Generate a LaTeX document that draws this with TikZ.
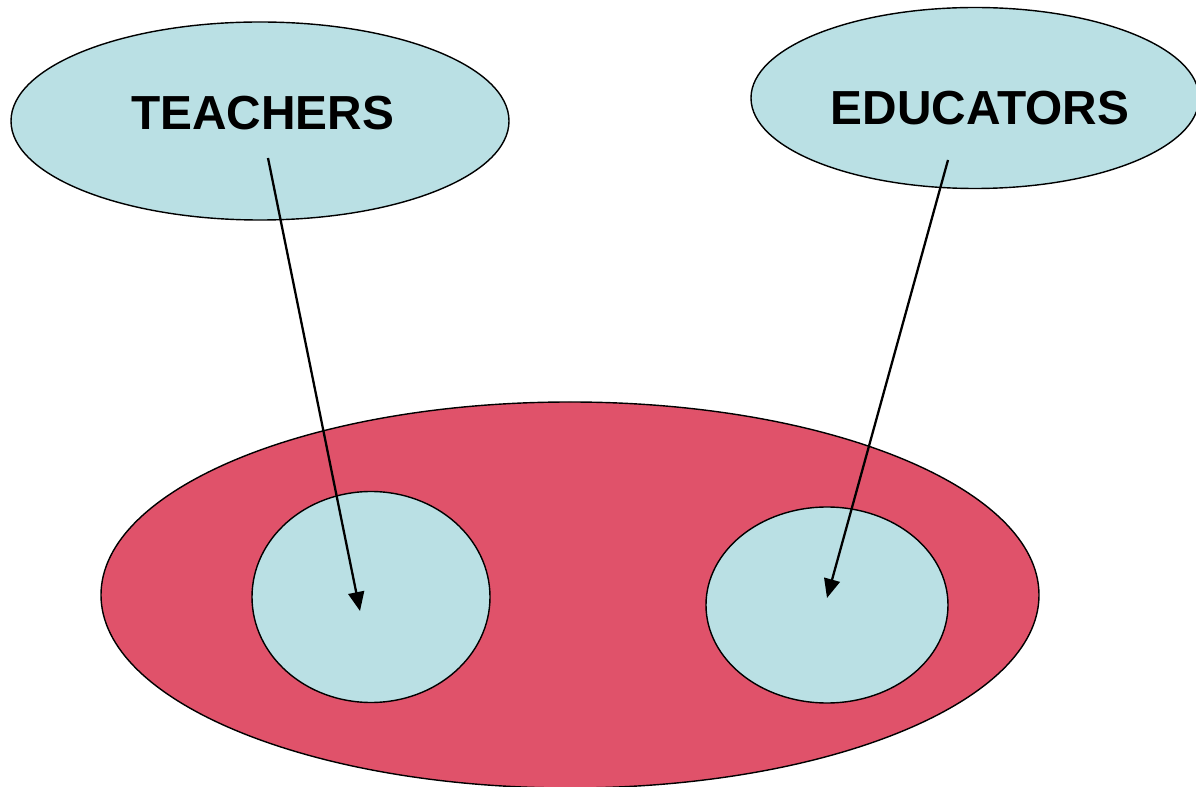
\documentclass[tikz,border=0pt]{standalone}
\usepackage{fontspec}
\setmainfont{Liberation Sans}
\usetikzlibrary{shapes.geometric,arrows.meta}
\definecolor{bubbleBg}{RGB}{186,224,228}
\definecolor{groupBg}{RGB}{224,82,106}
\tikzset{
  bubble/.style={ellipse, draw=black, line width=0.8pt, fill=bubbleBg, inner sep=0pt},
  bubbletext/.style={font=\fontsize{27.2}{32}\selectfont\bfseries, inner sep=0pt},
  pointer/.style={line width=1.3pt, -{Triangle[length=0.38cm, width=0.32cm]}}
}
\begin{document}
\begin{tikzpicture}
   \useasboundingbox (0,0) rectangle (23.92,-15.74);

   \node[bubble, fill=groupBg, minimum width=18.76cm, minimum height=7.72cm] (group) at (11.4,-11.9) {};
   \node[bubble, minimum width=4.76cm, minimum height=4.22cm] (innerLeft) at (7.42,-11.94) {};
   \node[bubble, minimum width=4.84cm, minimum height=3.92cm] (innerRight) at (16.54,-12.1) {};

   \node[bubble, minimum width=9.96cm, minimum height=3.96cm] (teachers) at (5.2,-2.42) {};
   \node[bubble, minimum width=8.96cm, minimum height=3.62cm] (educators) at (19.5,-1.96) {};

   \node[bubbletext] (teachersText) at (5.25,-2.26) {TEACHERS};
   \node[bubbletext] (educatorsText) at (19.6,-2.16) {EDUCATORS};

   \coordinate (teachersTail) at (5.36,-3.16);
   \coordinate (teachersHead) at (7.2,-12.22);
   \coordinate (educatorsTail) at (18.96,-3.2);
   \coordinate (educatorsHead) at (16.54,-11.96);

   \draw[pointer] (teachersTail) -- (teachersHead);
   \draw[pointer] (educatorsTail) -- (educatorsHead);

\end{tikzpicture}
\end{document}
